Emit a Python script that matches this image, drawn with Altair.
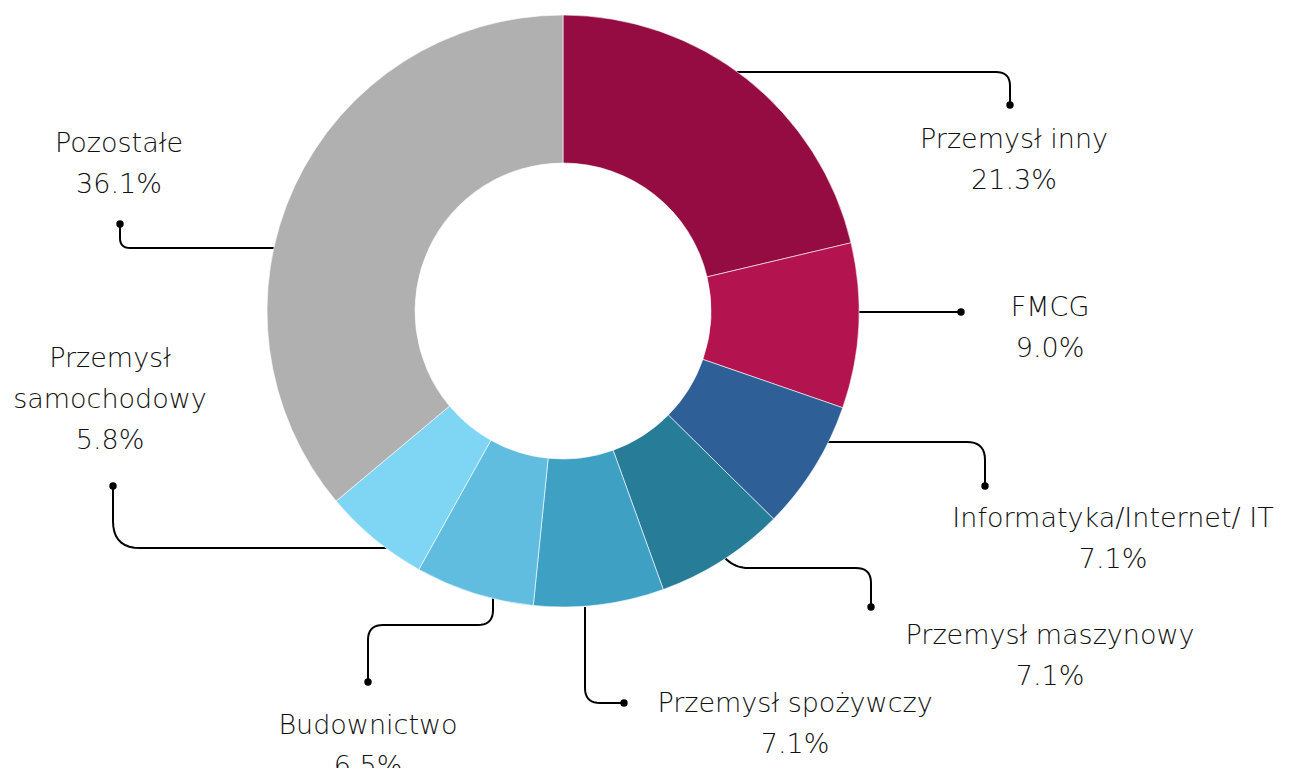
import altair as alt
import pandas as pd
import numpy as np

# ---------------- data ----------------
categories = ["Przemysł inny", "FMCG", "Informatyka/Internet/ IT", "Przemysł maszynowy",
              "Przemysł spożywczy", "Budownictwo", "Przemysł samochodowy", "Pozostałe"]
shares = [21.3, 9.0, 7.1, 7.1, 7.1, 6.5, 5.8, 36.1]
colors = ["#950c42", "#b3134e", "#2e5f97", "#277d98", "#3ea1c4", "#60bddf", "#7fd6f4", "#b0b0b0"]
label_lines = [["Przemysł inny"], ["FMCG"], ["Informatyka/Internet/ IT"], ["Przemysł maszynowy"],
               ["Przemysł spożywczy"], ["Budownictwo"], ["Przemysł", "samochodowy"], ["Pozostałe"]]

# ---------------- layout (reference pixel space) ----------------
W, H = 1299, 776
MARGIN = 8
CENTER = (563, 311)
R_OUT, R_IN = 296, 148
FONT = "DejaVu Sans"
FONT_SIZE = 27
LINE_STEP = 41
label_anchor = [(1014, 148), (1050, 316), (1113, 527), (1050, 644),
                (795, 712), (368, 734), (110, 367), (119, 152)]
connectors = [
    ([(735, 72), (1010, 72), (1010, 105)], [14]),
    ([(859, 312), (961, 312)], []),
    ([(823, 442), (985, 442), (985, 486)], [18]),
    ([(725, 558), (736, 568), (871, 568), (871, 607)], [12, 15]),
    ([(585, 607), (585, 703), (624, 703)], [15]),
    ([(493, 598), (493, 625), (368, 625), (368, 682)], [15, 15]),
    ([(387, 548), (113, 548), (113, 486)], [27]),
    ([(274, 248), (120, 248), (120, 224)], [10]),
]


def rounded(points, radii, n=10):
    pts = [np.array(p, dtype=float) for p in points]
    out = [pts[0]]
    for i in range(1, len(pts) - 1):
        p, a, b = pts[i], pts[i - 1], pts[i + 1]
        r = radii[i - 1]
        u_in = (p - a) / np.linalg.norm(p - a)
        u_out = (b - p) / np.linalg.norm(b - p)
        r1 = min(r, np.linalg.norm(p - a))
        r2 = min(r, np.linalg.norm(b - p))
        s, e = p - u_in * r1, p + u_out * r2
        for t in np.linspace(0, 1, n):
            q = (1 - t) ** 2 * s + 2 * (1 - t) * t * p + t ** 2 * e
            out.append(q)
    out.append(pts[-1])
    return out


pie_df = pd.DataFrame({"cat": categories, "share": shares, "idx": list(range(len(categories)))})

line_rows, dot_rows, text_rows = [], [], []
for ci, (pts, radii) in enumerate(connectors):
    for k, q in enumerate(rounded(pts, radii)):
        line_rows.append({"cat": categories[ci], "k": k, "x": float(q[0]), "y": float(q[1])})
    dot_rows.append({"cat": categories[ci], "x": pts[-1][0], "y": pts[-1][1]})
for ci, cat in enumerate(categories):
    lines = label_lines[ci] + [f"{shares[ci]:.1f}%"]
    ax, ay = label_anchor[ci]
    for li, t in enumerate(lines):
        text_rows.append({"t": t, "x": ax, "y": ay + li * LINE_STEP})

xs = alt.Scale(domain=[0, W], range=[-MARGIN, W - MARGIN])
ys = alt.Scale(domain=[0, H], range=[-MARGIN, H - MARGIN])
X = lambda f: alt.X(f, type="quantitative", scale=xs, axis=None)
Y = lambda f: alt.Y(f, type="quantitative", scale=ys, axis=None)

lines_layer = alt.Chart(pd.DataFrame(line_rows)).mark_line(
    color="#000000", strokeWidth=2, interpolate="linear"
).encode(x=X("x"), y=Y("y"), detail="cat:N", order="k:Q")

dots_layer = alt.Chart(pd.DataFrame(dot_rows)).mark_circle(
    color="#000000", opacity=1, size=55
).encode(x=X("x"), y=Y("y"))

pie = alt.Chart(pie_df).mark_arc(
    radius=R_OUT, radius2=R_IN, stroke="#ffffff", strokeWidth=0.6
).encode(
    theta=alt.Theta("share:Q", stack=True),
    color=alt.Color("cat:N", scale=alt.Scale(domain=categories, range=colors), legend=None),
    order=alt.Order("idx:Q"),
    x=alt.value(CENTER[0] - MARGIN),
    y=alt.value(CENTER[1] - MARGIN),
)

text_layer = alt.Chart(pd.DataFrame(text_rows)).mark_text(
    font=FONT, fontSize=FONT_SIZE, fontWeight=300, color="#111111",
    align="center", baseline="alphabetic"
).encode(x=X("x"), y=Y("y"), text="t:N")

chart = alt.layer(lines_layer, dots_layer, pie, text_layer).properties(
    width=W - 2 * MARGIN, height=H - 2 * MARGIN, autosize=alt.AutoSizeParams(type="none"), padding=0
).configure_view(stroke=None)

chart.save("out.html", embed_options={"renderer": "svg", "actions": False})
